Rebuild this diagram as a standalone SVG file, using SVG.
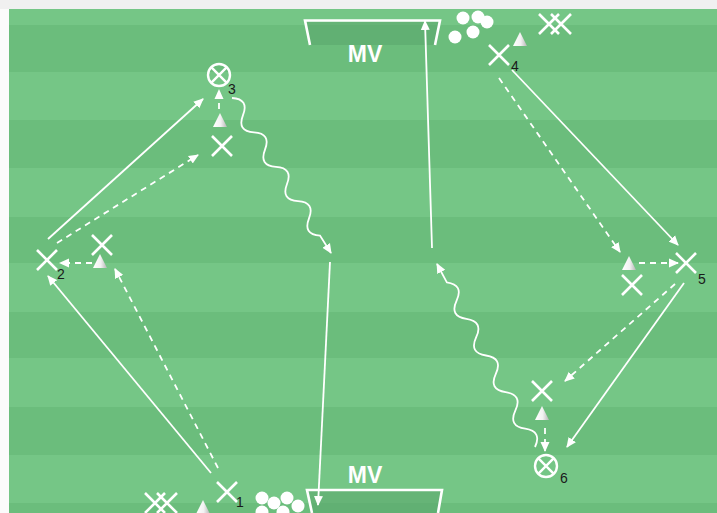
<svg xmlns="http://www.w3.org/2000/svg" width="717" height="513" viewBox="0 0 717 513">
<style>
.x{stroke:#fff;stroke-width:2.6;fill:none}
.ring{stroke:#fff;stroke-width:2.4;fill:none}
.ln{stroke:#fff;stroke-width:1.8;fill:none}
.dash{stroke:#fff;stroke-width:1.8;fill:none;stroke-dasharray:6 5}
.goal{stroke:#fff;stroke-width:2.6;fill:none}
.gfill{fill:#5aa56b;fill-opacity:0.55}
.lbl{font-family:"Liberation Sans",Arial,sans-serif;font-size:14px;fill:#1a1a1a}
.mv{font-family:"Liberation Sans",Arial,sans-serif;font-size:23px;font-weight:bold;fill:#fff}
.ball{fill:#fff}
.cone{fill:url(#cg)}
.stripe{fill:#6bbd7c}
</style>
<defs>
<marker id="ah" viewBox="0 0 10 10" refX="9" refY="5" markerWidth="10" markerHeight="10" markerUnits="userSpaceOnUse" orient="auto"><path d="M0,0.5 L10,5 L0,9.5 z" fill="#fff"/></marker>
<linearGradient id="cg" x1="0" y1="0" x2="1" y2="0"><stop offset="0" stop-color="#ffffff"/><stop offset="0.55" stop-color="#f2f2f2"/><stop offset="1" stop-color="#b5b5b5"/></linearGradient>
<g id="cross"><path d="M-10,-10 L10,10 M10,-10 L-10,10"/></g>
<path id="conep" d="M0,-8 L7,6 L-7,6 z"/>
</defs>
<rect x="0" y="0" width="717" height="513" fill="#fbfbfb"/>
<rect x="0" y="0" width="717" height="9" fill="#f0f0f0"/>
<g id="field">
<rect x="9" y="9" width="708" height="504" fill="#75c686"/>
<rect class="stripe" x="9" y="25" width="708" height="47"/>
<rect class="stripe" x="9" y="120" width="708" height="48"/>
<rect class="stripe" x="9" y="217" width="708" height="46"/>
<rect class="stripe" x="9" y="312" width="708" height="46"/>
<rect class="stripe" x="9" y="407" width="708" height="48"/>
<rect class="stripe" x="9" y="503" width="708" height="10"/>
</g>
<g id="goal-top">
<path class="gfill" d="M307,22 L439,22 L435,45 L310,45 z"/>
<path class="goal" d="M310,45 L305,20.5 L440,20.5 L435,45"/>
<text class="mv" x="365" y="62" text-anchor="middle">MV</text>
</g>
<g id="goal-bottom">
<path class="gfill" d="M308,491 L441,491 L438,513 L311,513 z"/>
<path class="goal" d="M312,513 L307,490 L442,490 L438,513"/>
<text class="mv" x="365" y="483" text-anchor="middle">MV</text>
</g>
<g id="connectors">
<line class="ln" x1="48" y1="239" x2="203" y2="99" marker-end="url(#ah)"/>
<line class="dash" x1="57" y1="243" x2="198" y2="155" marker-end="url(#ah)"/>
<line class="ln" x1="211" y1="473" x2="48" y2="276" marker-end="url(#ah)"/>
<line class="dash" x1="218" y1="468" x2="115" y2="269" marker-end="url(#ah)"/>
<line class="dash" x1="92" y1="263" x2="60" y2="263" marker-end="url(#ah)"/>
<line class="dash" x1="219" y1="109" x2="219" y2="90" marker-end="url(#ah)"/>
<line class="ln" x1="512" y1="70" x2="678" y2="245" marker-end="url(#ah)"/>
<line class="dash" x1="499" y1="78" x2="620" y2="252" marker-end="url(#ah)"/>
<line class="dash" x1="639" y1="263" x2="678" y2="263" marker-end="url(#ah)"/>
<line class="ln" x1="684" y1="283" x2="567" y2="447" marker-end="url(#ah)"/>
<line class="dash" x1="675" y1="284" x2="565" y2="381" marker-end="url(#ah)"/>
<line class="dash" x1="545" y1="428" x2="545" y2="451" marker-end="url(#ah)"/>
<line class="ln" x1="432" y1="248" x2="425" y2="21" marker-end="url(#ah)"/>
<line class="ln" x1="330" y1="262" x2="318" y2="505" marker-end="url(#ah)"/>
<path class="ln" d="M232,98 Q249.3,99.1 243,115.2 T254,132.4 T265,149.6 T276,166.8 T287,184 T298,201.2 T309,218.4 T320,235.6 L331,253" marker-end="url(#ah)"/>
<path class="ln" d="M535,447 Q542.4,431.3 525.2,428.7 T515.4,410.4 T505.6,392.1 T495.8,373.8 T486,355.5 T476.2,337.2 T466.4,318.9 T456.6,300.6 T446.8,282.3 L437,264" marker-end="url(#ah)"/>
</g>
<g id="p1"><use href="#cross" class="x" x="227" y="492"/><text class="lbl" x="236" y="507">1</text></g>
<g id="p2"><use href="#cross" class="x" x="47" y="260"/><text class="lbl" x="57" y="279">2</text></g>
<g id="p3"><circle class="ring" cx="219" cy="75" r="11"/><path class="ring" d="M211.2,67.2 L226.8,82.8 M226.8,67.2 L211.2,82.8"/><text class="lbl" x="228" y="94">3</text></g>
<g id="p4"><use href="#cross" class="x" x="499" y="55"/><text class="lbl" x="511" y="71">4</text></g>
<g id="p5"><use href="#cross" class="x" x="686" y="263"/><text class="lbl" x="698" y="284">5</text></g>
<g id="p6"><circle class="ring" cx="546" cy="466" r="11"/><path class="ring" d="M538.2,458.2 L553.8,473.8 M553.8,458.2 L538.2,473.8"/><text class="lbl" x="560" y="483">6</text></g>
<g id="x-a"><use href="#cross" class="x" x="222" y="146"/></g>
<g id="x-b"><use href="#cross" class="x" x="102" y="245"/></g>
<g id="x-c"><use href="#cross" class="x" x="632" y="285"/></g>
<g id="x-d"><use href="#cross" class="x" x="542" y="391"/></g>
<g id="xx-top"><use href="#cross" class="x" x="549" y="24"/><use href="#cross" class="x" x="561" y="24"/></g>
<g id="xx-bottom"><use href="#cross" class="x" x="155" y="503"/><use href="#cross" class="x" x="167" y="503"/></g>
<g id="cones">
<use href="#conep" class="cone" x="220" y="121"/>
<use href="#conep" class="cone" x="100" y="262"/>
<use href="#conep" class="cone" x="629" y="264"/>
<use href="#conep" class="cone" x="542" y="414"/>
<use href="#conep" class="cone" x="520" y="40"/>
<use href="#conep" class="cone" x="203" y="508"/>
</g>
<g id="balls-top">
<circle class="ball" cx="463" cy="18" r="6.5"/><circle class="ball" cx="478" cy="17" r="6.5"/><circle class="ball" cx="487" cy="22" r="6.5"/><circle class="ball" cx="455" cy="37" r="6.5"/><circle class="ball" cx="473" cy="32" r="6.5"/>
</g>
<g id="balls-bottom">
<circle class="ball" cx="262" cy="498" r="6.5"/><circle class="ball" cx="274" cy="503" r="6.5"/><circle class="ball" cx="287" cy="498" r="6.5"/><circle class="ball" cx="298" cy="506" r="6.5"/><circle class="ball" cx="262" cy="512" r="6.5"/><circle class="ball" cx="283" cy="512" r="6.5"/>
</g>
</svg>
